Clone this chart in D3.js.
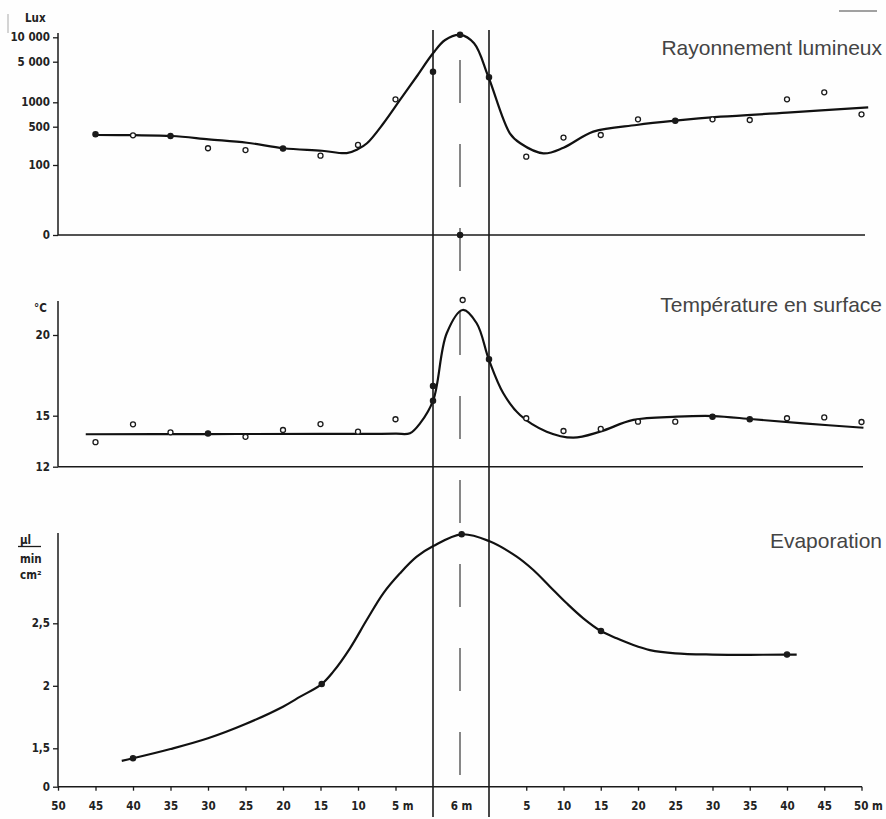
<!DOCTYPE html>
<html lang="fr">
<head>
<meta charset="UTF-8">
<title>Rayonnement, température, évaporation</title>
<style>
  body { margin: 0; background: #fff; }
  svg { display: block; }
  .tick text, .lbl { font-family: "DejaVu Sans Condensed", "DejaVu Sans", sans-serif; font-weight: bold; font-size: 11.5px; fill: #222; }
  .title { font-family: "Liberation Sans", Arial, sans-serif; font-size: 21px; fill: #444; }
  .curve { fill: none; stroke: #111; stroke-width: 2.2; }
</style>
</head>
<body>
<div id="chart"></div>
<script src="https://d3js.org/d3.v7.min.js"></script>
<script>
// Position along transect: left side = -distance (m), 6 m zone = 0..6, right side = 6 + distance
const xTicksLeft = [50, 45, 40, 35, 30, 25, 20, 15, 10, 5];
const xTicksRight = [5, 10, 15, 20, 25, 30, 35, 40, 45, 50];

// Rayonnement lumineux (lux): [position, value]
const luxCurve = [[-44.8, 353], [-40, 350], [-34.8, 338], [-29.9, 294], [-24.8, 255], [-19.9, 202],
  [-14.8, 182], [-11.5, 165], [-10, 195], [-8.8, 249], [-6.6, 551], [-4.4, 1096], [-2.2, 2754],
  [0, 6350], [1.3, 9268], [2.9, 10715], [4.4, 8437], [5.93, 2754], [8.8, 379], [10.2, 249],
  [13.3, 163], [16, 207], [20, 406], [25.8, 525], [31, 593], [37.1, 664], [46, 745], [56.9, 867]];
// [position, value, filled]
const luxPoints = [[-45, 363, 1], [-40, 348, 0], [-35, 338, 1], [-30, 202, 0], [-25, 187, 0],
  [-20, 199, 1], [-15, 148, 0], [-10, 232, 0], [-5, 1127, 0], [0, 3365, 1], [2.9, 10715, 1],
  [6, 2692, 1], [11, 142, 0], [16, 316, 0], [21, 353, 0], [26, 617, 0], [31, 593, 1], [36, 617, 0],
  [41, 605, 0], [46, 1127, 0], [51, 1486, 0], [56, 711, 0], [2.9, 0, 1]];
const luxTicks = [0, 100, 500, 1000, 5000, 10000];
const luxTickLabels = ["0", "100", "500", "1000", "5 000", "10 000"];

// Température en surface (°C)
const tempCurve = [[-46.3, 13.91], [-30, 13.92], [-15, 13.93], [-5, 13.94], [-3.07, 13.97], [-1.73, 14.55],
  [0.03, 15.97], [1.47, 20.11], [3.18, 21.55], [4.68, 20.73], [6, 18.45], [7.92, 16.39], [10.16, 15.04],
  [13.74, 14.06], [17.31, 13.71], [20.9, 14.06], [25.37, 14.75], [31.2, 14.94], [36.1, 14.98],
  [41.47, 14.79], [48.2, 14.55], [56.26, 14.29]];
const tempPoints = [[-45, 13.44, 0], [-40, 14.49, 0], [-35, 14.02, 0], [-30, 13.96, 1], [-25, 13.76, 0],
  [-20, 14.16, 0], [-15, 14.51, 0], [-10, 14.06, 0], [-5, 14.79, 0], [0, 16.84, 1], [0, 15.93, 1],
  [3.18, 22.17, 0], [6, 18.5, 1], [11, 14.85, 0], [16, 14.1, 0], [21, 14.22, 0], [26, 14.65, 0],
  [31, 14.65, 0], [36, 14.94, 1], [41, 14.79, 1], [46, 14.85, 0], [51, 14.9, 0], [56, 14.63, 0]];
const tempTicks = [12, 15, 20];

// Evaporation (µl / min cm²) - axis is broken below 1,5
const evapCurve = [[-41.5, 1.40], [-40, 1.42], [-35, 1.494], [-30, 1.58], [-25, 1.694], [-20, 1.833],
  [-17.7, 1.913], [-14.84, 2.014], [-13.3, 2.113], [-11.07, 2.30], [-8.84, 2.526], [-6.63, 2.74],
  [-4.4, 2.90], [-2.17, 3.033], [0.03, 3.118], [3.07, 3.212], [6, 3.158], [9.72, 3.033], [11.95, 2.926],
  [14.19, 2.793], [16.43, 2.66], [18.66, 2.54], [21.03, 2.438], [23.14, 2.38], [25.37, 2.326],
  [27.6, 2.286], [31, 2.26], [36, 2.25], [41, 2.248], [46, 2.25], [47.3, 2.25]];
const evapPoints = [[-40, 1.42, 1], [-14.84, 2.014, 1], [3.07, 3.212, 1], [21.03, 2.438, 1], [46, 2.25, 1]];
const evapTickLabels = ["0", "1,5", "2", "2,5"];

const width = 886, height = 819;
const svg = d3.select("#chart").append("svg").attr("width", width).attr("height", height);
svg.append("rect").attr("width", width).attr("height", height).attr("fill", "#fefefe");

const x = d3.scaleLinear().domain([-50, 0, 6, 56]).range([58, 433, 489, 861.5]);

// log-like hand drawn lux axis
const luxLog = d3.scaleLinear().domain([2, Math.log10(500), 3, Math.log10(5000), 4]).range([165, 126.7, 102.3, 61.7, 37.3]);
const luxAxisScale = d3.scaleLinear().domain(luxTicks).range([235, 165, 126.7, 102.3, 61.7, 37.3]);
const luxY = v => v <= 0 ? 235 : luxLog(Math.log10(v));
const tempY = d3.scaleLinear().domain([12, 15, 20]).range([466.7, 415.7, 335]);
const evapY = d3.scaleLinear().domain([1.5, 2.5]).range([748.3, 623.3]);
const evapBase = 786.7;
const evapTicks = [evapY.invert(evapBase), 1.5, 2, 2.5];

const ink = "#1a1a1a";

const panels = [
  { y: luxY, axisScale: luxAxisScale, ticks: luxTicks, labels: luxTickLabels, top: 33, base: 235, curve: luxCurve, points: luxPoints, title: "Rayonnement lumineux", ty: 55, end: 865 },
  { y: tempY, axisScale: tempY, ticks: tempTicks, labels: tempTicks.map(String), top: 301, base: 466.7, curve: tempCurve, points: tempPoints, title: "Température en surface", ty: 312, end: 863 },
  { y: evapY, axisScale: evapY, ticks: evapTicks, labels: evapTickLabels, top: 533, base: evapBase, curve: evapCurve, points: evapPoints, title: "Evaporation", ty: 548, end: 862 }
];

// central dashed line in the 6 m zone
svg.append("line")
  .attr("x1", 460).attr("x2", 460).attr("y1", 60).attr("y2", 780)
  .attr("stroke", "#555").attr("stroke-width", 1.4).attr("stroke-dasharray", "43 41");

// zone boundaries
[0, 6].forEach(u => {
  svg.append("line")
    .attr("x1", x(u)).attr("x2", x(u)).attr("y1", 30).attr("y2", 817)
    .attr("stroke", ink).attr("stroke-width", 1.6);
});

panels.forEach(p => {
  const ax = svg.append("g")
    .attr("transform", `translate(${x(-50)},0)`)
    .call(d3.axisLeft(p.axisScale).tickValues(p.ticks).tickSize(5).tickPadding(3)
      .tickFormat((d, i) => p.labels[i]));
  ax.select(".domain").remove();
  ax.selectAll(".tick line").attr("stroke", ink).attr("stroke-width", 1.3);

  svg.append("line")
    .attr("x1", x(-50)).attr("x2", x(-50)).attr("y1", p.top).attr("y2", p.base)
    .attr("stroke", ink).attr("stroke-width", 1.5);
  svg.append("line")
    .attr("x1", x(-50)).attr("x2", p.end).attr("y1", p.base).attr("y2", p.base)
    .attr("stroke", ink).attr("stroke-width", 1.5);

  const line = d3.line().x(d => x(d[0])).y(d => p.y(d[1])).curve(d3.curveCatmullRom.alpha(0.5));
  svg.append("path").datum(p.curve).attr("class", "curve").attr("d", line);

  svg.append("g").selectAll("circle")
    .data(p.points)
    .join("circle")
    .attr("cx", d => x(d[0]))
    .attr("cy", d => p.y(d[1]))
    .attr("r", d => d[2] ? 2.6 : 2.5)
    .attr("fill", d => d[2] ? ink : "#fff")
    .attr("stroke", ink)
    .attr("stroke-width", 1.3);

  svg.append("text").attr("class", "title")
    .attr("x", 882).attr("y", p.ty).attr("text-anchor", "end")
    .text(p.title);
});

// bottom x axis
const xTickPos = xTicksLeft.map(d => -d).concat([3], xTicksRight.map(d => 6 + d));
const xTickText = xTicksLeft.map(d => d === 5 ? "5 m" : String(d))
  .concat(["6 m"], xTicksRight.map(d => d === 50 ? "50 m" : String(d)));
const xa = svg.append("g")
  .attr("transform", `translate(0,${evapBase})`)
  .call(d3.axisBottom(x).tickValues(xTickPos).tickSize(4).tickPadding(11)
    .tickFormat((d, i) => xTickText[i]));
xa.select(".domain").remove();
xa.selectAll(".tick line").attr("stroke", ink).attr("stroke-width", 1.3)
  .attr("opacity", d => d === 3 ? 0 : 1);
xa.selectAll(".tick text")
  .attr("text-anchor", (d, i) => (xTickText[i] === "5 m" || xTickText[i] === "50 m") ? "start" : "middle")
  .attr("dx", (d, i) => xTickText[i] === "5 m" ? -4 : xTickText[i] === "50 m" ? -8 : 0);

// unit labels
svg.append("text").attr("class", "lbl").attr("x", 25).attr("y", 22).text("Lux");
svg.append("text").attr("class", "lbl").attr("x", 34).attr("y", 312).text("°C");
svg.append("text").attr("class", "lbl").attr("x", 20).attr("y", 544).text("µl");
svg.append("line").attr("x1", 18).attr("x2", 41).attr("y1", 546.5).attr("y2", 546.5)
  .attr("stroke", ink).attr("stroke-width", 1.3);
svg.append("text").attr("class", "lbl").attr("x", 20).attr("y", 563).text("min");
svg.append("text").attr("class", "lbl").attr("x", 20).attr("y", 579).text("cm²");

// scan marks
svg.append("line").attr("x1", 8).attr("x2", 8).attr("y1", 14).attr("y2", 33)
  .attr("stroke", "#aaa").attr("stroke-width", 1);
svg.append("line").attr("x1", 839).attr("x2", 877).attr("y1", 11).attr("y2", 11)
  .attr("stroke", "#444").attr("stroke-width", 1.2);
</script>
</body>
</html>
